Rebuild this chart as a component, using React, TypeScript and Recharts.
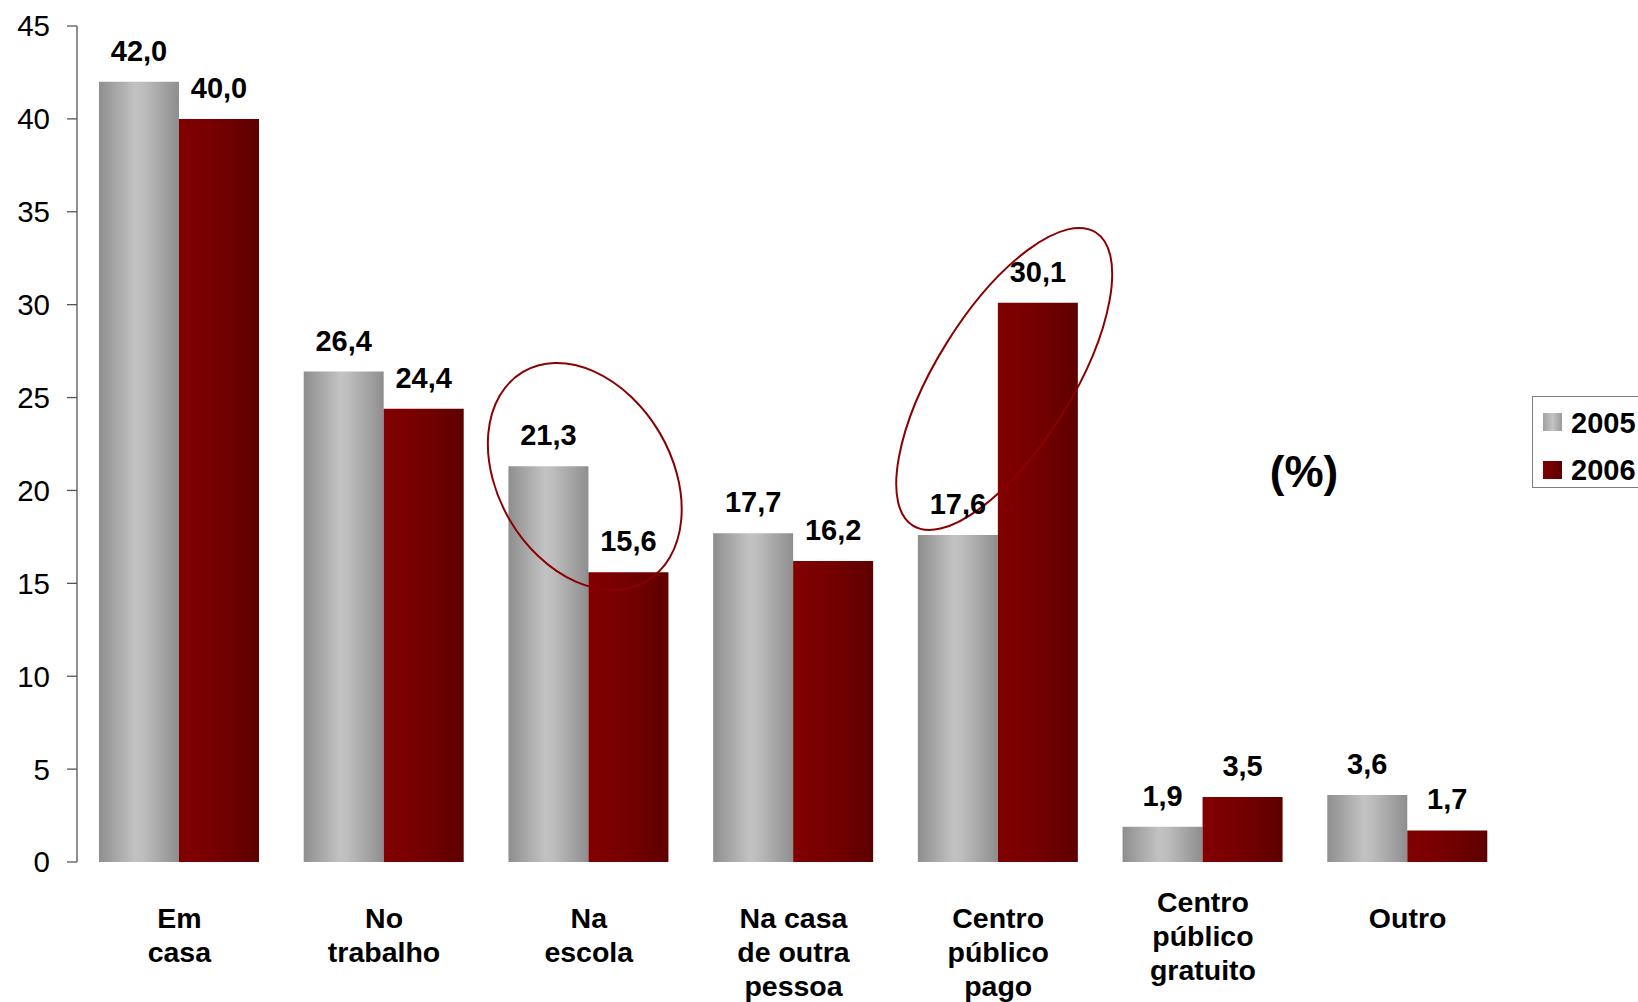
import React from "react";
import { BarChart, Bar, XAxis, YAxis, LabelList, Legend, ReferenceDot } from "recharts";

const categories = [
  "Em casa",
  "No trabalho",
  "Na escola",
  "Na casa de outra pessoa",
  "Centro público pago",
  "Centro público gratuito",
  "Outro",
];
const categoryLines: Record<string, string[]> = {
  "Em casa": ["Em", "casa"],
  "No trabalho": ["No", "trabalho"],
  "Na escola": ["Na", "escola"],
  "Na casa de outra pessoa": ["Na casa", "de outra", "pessoa"],
  "Centro público pago": ["Centro", "público", "pago"],
  "Centro público gratuito": ["Centro", "público", "gratuito"],
  "Outro": ["Outro"],
};
const values2005 = [42.0, 26.4, 21.3, 17.7, 17.6, 1.9, 3.6];
const values2006 = [40.0, 24.4, 15.6, 16.2, 30.1, 3.5, 1.7];
const yTicks = [0, 5, 10, 15, 20, 25, 30, 35, 40, 45];
const seriesNames = ["2005", "2006"];

const data = categories.map((c, i) => ({ name: c, y2005: values2005[i], y2006: values2006[i] }));

const FONT = "'Liberation Sans', Arial, Helvetica, sans-serif";

const Gradients = () => (
  <defs>
    <linearGradient id="gGray" x1="0" y1="0" x2="1" y2="0">
      <stop offset="0%" stopColor="#8e8e8e" />
      <stop offset="45%" stopColor="#c2c2c2" />
      <stop offset="55%" stopColor="#bebebe" />
      <stop offset="100%" stopColor="#8e8e8e" />
    </linearGradient>
    <linearGradient id="gRed" x1="0" y1="0" x2="1" y2="0">
      <stop offset="0%" stopColor="#820000" />
      <stop offset="45%" stopColor="#760000" />
      <stop offset="100%" stopColor="#5e0000" />
    </linearGradient>
  </defs>
);

const fmt = (v: number) => v.toFixed(1).replace(".", ",");

const ValueLabel = (props: any) => {
  const { x, y, width, value } = props;
  return (
    <text
      x={Number(x) + Number(width) / 2}
      y={Number(y) - 21}
      textAnchor="middle"
      fontFamily={FONT}
      fontWeight="bold"
      fontSize={29}
      fill="#000"
    >
      {fmt(Number(value))}
    </text>
  );
};

const CategoryTick = (props: any) => {
  const { x, y, payload } = props;
  const lines = categoryLines[payload.value] || [payload.value];
  const shift = payload.value === "Centro público gratuito" ? -16 : 0;
  return (
    <text
      x={x}
      y={y + 66 + shift}
      textAnchor="middle"
      fontFamily={FONT}
      fontWeight="bold"
      fontSize={28.5}
      fill="#000"
    >
      {lines.map((l: string, i: number) => (
        <tspan key={i} x={x} dy={i === 0 ? 0 : 34}>
          {l}
        </tspan>
      ))}
    </text>
  );
};

const LegendContent = () => (
  <div
    style={{
      width: 130,
      height: 92,
      border: "1.5px solid #7f7f7f",
      background: "#fff",
      boxSizing: "border-box",
    }}
  >
    <svg width={130} height={92} style={{ display: "block" }}>
      <defs>
        <linearGradient id="lgGray" x1="0" y1="0" x2="1" y2="0">
          <stop offset="0%" stopColor="#a0a0a0" />
          <stop offset="50%" stopColor="#c4c4c4" />
          <stop offset="100%" stopColor="#9a9a9a" />
        </linearGradient>
        <linearGradient id="lgRed" x1="0" y1="0" x2="1" y2="0">
          <stop offset="0%" stopColor="#820000" />
          <stop offset="100%" stopColor="#5e0000" />
        </linearGradient>
      </defs>
      {seriesNames.map((s, i) => (
        <g key={s}>
          <rect x={10} y={16 + i * 48} width={19} height={18} fill={i === 0 ? "url(#lgGray)" : "url(#lgRed)"} />
          <text x={38} y={36 + i * 47} fontFamily={FONT} fontWeight="bold" fontSize={29} fill="#000">
            {s}
          </text>
        </g>
      ))}
    </svg>
  </div>
);

const EllipseShape = (dx: number, rx: number, ry: number, angle: number) => (props: any) => {
  const cx = Number(props.cx) + dx;
  const cy = Number(props.cy);
  return (
    <ellipse
      cx={cx}
      cy={cy}
      rx={rx}
      ry={ry}
      transform={`rotate(${angle} ${cx} ${cy})`}
      fill="none"
      stroke="#8b0000"
      strokeWidth={2}
    />
  );
};

export default function App() {
  return (
    <div
      style={{
        position: "fixed",
        left: 0,
        top: 0,
        width: 1638,
        height: 1002,
        overflow: "hidden",
        background: "#fff",
      }}
    >
      <BarChart
        width={1638}
        height={1002}
        data={data}
        margin={{ top: 26, right: 128, bottom: 0, left: 0 }}
        barGap={0}
      >
        <Gradients />
        <XAxis
          dataKey="name"
          type="category"
          axisLine={false}
          tickLine={false}
          tickSize={0}
          tickMargin={0}
          height={140}
          interval={0}
          tick={<CategoryTick />}
        />
        <YAxis
          type="number"
          domain={[0, 45]}
          ticks={yTicks}
          width={77}
          tickSize={10}
          tickMargin={17}
          axisLine={{ stroke: "#555", strokeWidth: 1.3 }}
          tickLine={{ stroke: "#555", strokeWidth: 1.3 }}
          tick={{ fill: "#000", fontSize: 29.5, fontFamily: FONT }}
          interval={0}
        />
        <Legend
          layout="horizontal"
          align="center"
          verticalAlign="middle"
          content={<LegendContent />}
          wrapperStyle={{ position: "absolute", left: 1532, top: 396, width: 130, height: 92 }}
        />
        <Bar dataKey="y2005" name="2005" fill="url(#gGray)" barSize={80} isAnimationActive={false}>
          <LabelList dataKey="y2005" content={<ValueLabel />} />
        </Bar>
        <Bar dataKey="y2006" name="2006" fill="url(#gRed)" barSize={80} isAnimationActive={false}>
          <LabelList dataKey="y2006" content={<ValueLabel />} />
        </Bar>
        <ReferenceDot x="Na escola" y={20.75} r={1} shape={EllipseShape(-4, 121.5, 86.7, 59.4)} />
        <ReferenceDot x="Centro público pago" y={26.0} r={1} shape={EllipseShape(6, 172.8, 67.9, -58.1)} />
      </BarChart>
      <svg
        width={1638}
        height={1002}
        style={{ position: "absolute", left: 0, top: 0, pointerEvents: "none" }}
      >
        <text x={1304} y={487} textAnchor="middle" fontFamily={FONT} fontWeight="bold" fontSize={44} fill="#000">
          (%)
        </text>
      </svg>
    </div>
  );
}
